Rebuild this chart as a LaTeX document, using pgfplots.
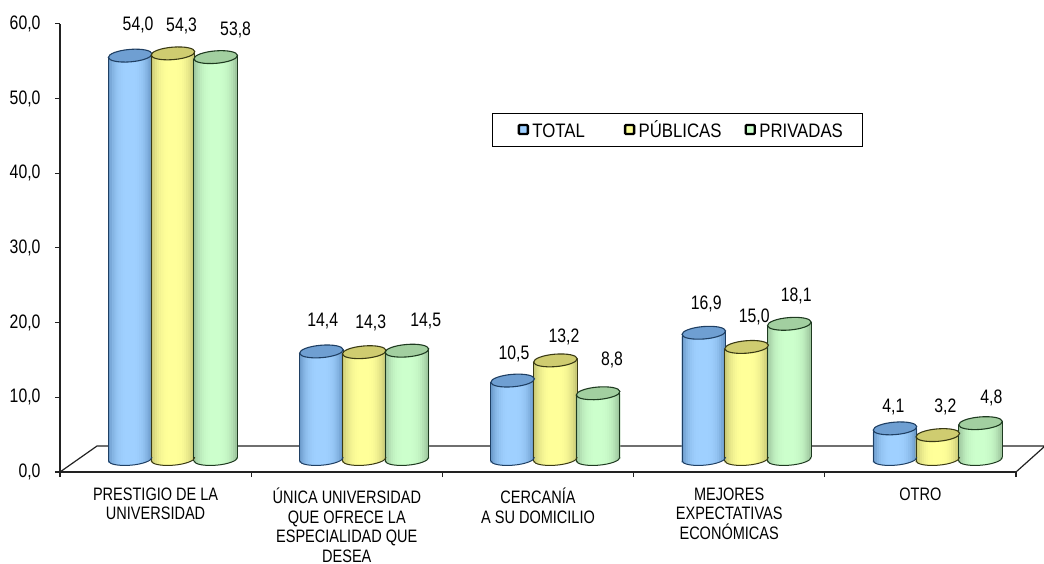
\documentclass[border=0pt]{standalone}
\usepackage{fontspec}
\setmainfont{Liberation Sans}
\newfontfamily\numfont[FakeStretch=0.81]{Liberation Sans}
\newfontfamily\catfont[FakeStretch=0.807]{Liberation Sans}
\newfontfamily\legfont[FakeStretch=0.86]{Liberation Sans}
\usepackage{pgfplots}
\usepackage{pgfplotstable}
\pgfplotsset{compat=1.18}

\pgfdeclareplotmark{cylcap}{%
  \pgfpathellipse{\pgfpointorigin}{\pgfqpoint{21.8pt}{1.8pt}}{\pgfqpoint{-0.5pt}{6.2pt}}%
  \pgfusepathqfillstroke}
\pgfdeclareplotmark{cylbot}{%
  \pgfpathmoveto{\pgfqpoint{-21.8pt}{-1.8pt}}%
  \pgfpathcurveto{\pgfqpoint{-21.52pt}{-5.22pt}}{\pgfqpoint{-11.54pt}{-7.19pt}}{\pgfqpoint{0.5pt}{-6.2pt}}%
  \pgfpathcurveto{\pgfqpoint{12.54pt}{-5.21pt}}{\pgfqpoint{22.08pt}{-1.62pt}}{\pgfqpoint{21.8pt}{1.8pt}}%
  \pgfusepathqstroke}

\definecolor{bE}{HTML}{1F3F63}\definecolor{bS}{HTML}{6C9BCB}\definecolor{bM}{HTML}{9FD0FF}\definecolor{bT}{HTML}{6F9FD2}
\definecolor{yE}{HTML}{3A3A14}\definecolor{yS}{HTML}{C9C977}\definecolor{yM}{HTML}{FFFF99}\definecolor{yT}{HTML}{CFCC70}
\definecolor{gE}{HTML}{1E3A20}\definecolor{gS}{HTML}{9FC79F}\definecolor{gM}{HTML}{CCFFCC}\definecolor{gT}{HTML}{A2CFA0}
\definecolor{axc}{HTML}{222222}

% horizontal colour profile of a cylinder, one colour for each of 21 strips
\pgfplotsforeachungrouped \i in {0,...,20}{%
  \pgfmathsetmacro\m{100*(1-(abs(\i-10)/10)^3)}%
  \colorlet{bC\i}{bM!\m!bS}%
  \colorlet{yC\i}{yM!\m!yS}%
  \colorlet{gC\i}{gM!\m!gS}%
}

\pgfplotstableread{
x v
0.5 54.0
1.5 14.4
2.5 10.5
3.5 16.9
4.5 4.1
}\total
\pgfplotstableread{
x v
0.5 54.3
1.5 14.3
2.5 13.2
3.5 15.0
4.5 3.2
}\publicas
\pgfplotstableread{
x v
0.5 53.8
1.5 14.5
2.5 8.8
3.5 18.1
4.5 4.8
}\privadas
% label tables: x, value, dx (px from category centre), py (pixel row of the label)
\pgfplotstableread{
x v dx py
0.5 54.0 -17.5 25
1.5 14.4 -24 321
2.5 10.5 -24 354
3.5 16.9 -23 304
4.5 4.1 -27 407
}\ltotal
\pgfplotstableread{
x v dx py
0.5 54.3 26 26
1.5 14.3 24 323
2.5 13.2 26 337
3.5 15.0 25 317
4.5 3.2 25 407
}\lpublicas
\pgfplotstableread{
x v dx py
0.5 53.8 80 30
1.5 14.5 79 321
2.5 8.8 74 360
3.5 18.1 67 296
4.5 4.8 71 398
}\lprivadas

\newcommand{\cyl}[5]{% table, xshift, edge, top, colour prefix
  \pgfplotsinvokeforeach{0,...,20}{%
    \addplot[ybar, bar width=2.7pt, bar shift=0pt, draw=none, fill=#5##1, forget plot,
      xshift={(#2+(##1-10)*2.08)*1pt},
      yshift={(13+0.0826*(##1-10)*2.08-6.2*sqrt(1-((##1-10)*2.08/21.8)^2))*1pt}]
      table[x=x, y=v] {#1};
  }
  \addplot[ycomb, draw=#3, line width=1pt, forget plot, xshift=#2pt-21.8pt, yshift=11.2pt] table[x=x, y=v] {#1};
  \addplot[ycomb, draw=#3, line width=1pt, forget plot, xshift=#2pt+21.8pt, yshift=14.8pt] table[x=x, y=v] {#1};
  \addplot[only marks, mark=cylbot, forget plot, mark options={draw=#3, line width=1pt},
    xshift=#2pt, yshift=13pt] table[x=x, y expr=0] {#1};
  \addplot[only marks, mark=cylcap, forget plot, mark options={draw=#3, fill=#4, line width=1.1pt},
    xshift=#2pt, yshift=13pt] table[x=x, y=v] {#1};
}
\newcommand{\vlabels}[1]{%
  \addplot[only marks, mark=none, forget plot,
    point meta=\thisrow{v},
    nodes near coords={\pgfmathprintnumber[use comma,fixed,fixed zerofill,precision=1,assume math mode=true]{\pgfplotspointmeta}},
    every node near coord/.style={font=\numfont\fontsize{19.5}{19.5}\selectfont, text=black, anchor=center, inner sep=0pt},
  ] table[x expr=\thisrow{x}+\thisrow{dx}/191.2, y expr=(472-\thisrow{py})/7.47] {#1};
}

\begin{document}
\begin{tikzpicture}
\path[use as bounding box] (-60pt,-91pt) rectangle (984pt,472pt);
\begin{axis}[
  scale only axis, width=956pt, height=448.2pt,
  xmin=0, xmax=5, ymin=0, ymax=60,
  clip=false,
  axis x line=bottom, axis y line=left,
  axis line style={-, draw=axc, line width=1.3pt},
  tick style={draw=axc, line width=1.1pt},
  major tick length=5pt,
  tick align=outside,
  xtick={0,1,2,3,4,5}, xticklabels={},
  ytick={0,10,20,30,40,50,60},
  yticklabel style={font=\numfont\fontsize{19.5}{19.5}\selectfont, xshift=-11pt, /pgf/number format/.cd, use comma, fixed, fixed zerofill, precision=1, assume math mode=true},
  extra x ticks={0.5,1.5,2.5,3.5,4.5},
  extra x tick labels={PRESTIGIO DE LA\\UNIVERSIDAD, ÚNICA UNIVERSIDAD\\QUE OFRECE LA\\ESPECIALIDAD QUE\\DESEA, CERCANÍA\\A SU DOMICILIO, MEJORES\\EXPECTATIVAS\\ECONÓMICAS, OTRO},
  extra x tick style={major tick length=0pt, tick style={draw=none},
    xticklabel style={align=center, font=\catfont\fontsize{18}{19.7}\selectfont, anchor=north, yshift=-15.5pt, inner sep=0pt}},
  legend style={at={(0.646,0.763)}, anchor=center, draw=black, line width=1.1pt, fill=white,
    legend columns=3, inner xsep=17.5pt, inner ysep=5pt, font=\legfont\fontsize{19.5}{19.5}\selectfont,
    /tikz/every even column/.append style={column sep=21pt}},
  legend cell align=left,
]
\addplot[draw=axc, line width=1.2pt, forget plot] coordinates {(0,0) (0.1935,3.48) (5.152,3.48) (5,0)};
\cyl{\total}{-25.4}{bE}{bT}{bC}
\cyl{\publicas}{17.4}{yE}{yT}{yC}
\cyl{\privadas}{60.1}{gE}{gT}{gC}
\vlabels{\ltotal}
\vlabels{\lpublicas}
\vlabels{\lprivadas}
\addlegendimage{legend image code/.code={\path (-8pt,0pt) (11pt,0pt); \draw[draw=black, line width=2.4pt, fill=bM, rounded corners=1pt] (0pt,-4pt) rectangle (9pt,5pt);}}
\addlegendentry{\vphantom{Ú}TOTAL\kern16pt\relax}
\addlegendimage{legend image code/.code={\path (11pt,0pt); \draw[draw=black, line width=2.4pt, fill=yM, rounded corners=1pt] (0pt,-4pt) rectangle (9pt,5pt);}}
\addlegendentry{PÚBLICAS}
\addlegendimage{legend image code/.code={\path (11pt,0pt); \draw[draw=black, line width=2.4pt, fill=gM, rounded corners=1pt] (0pt,-4pt) rectangle (9pt,5pt);}}
\addlegendentry{\vphantom{Ú}PRIVADAS}
\end{axis}
\end{tikzpicture}
\end{document}
